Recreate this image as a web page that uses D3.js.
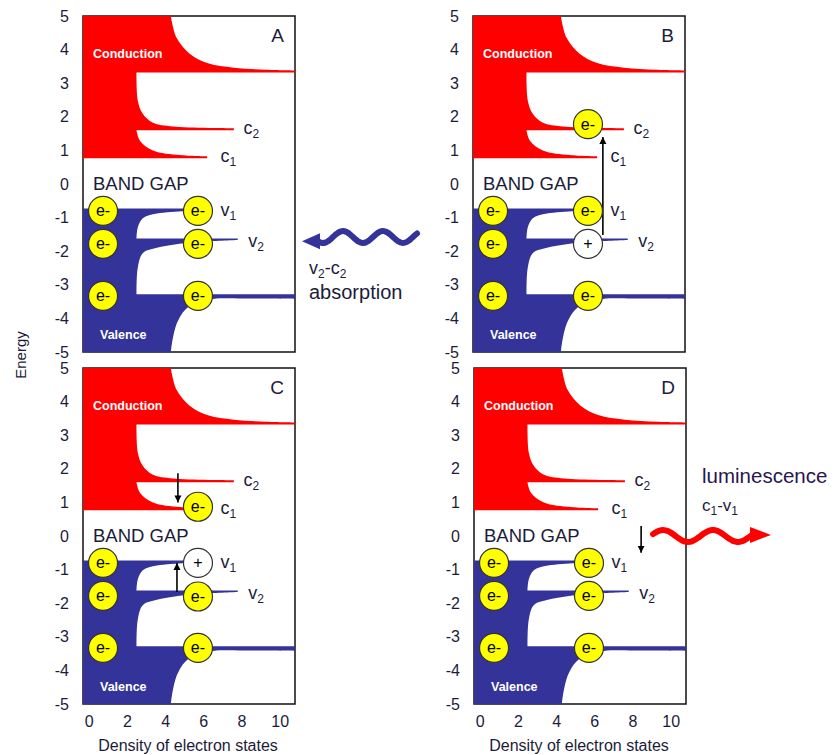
<!DOCTYPE html>
<html>
<head>
<meta charset="utf-8">
<script src="https://cdn.jsdelivr.net/npm/d3@7"></script>
<style>
  body { margin: 0; background: #fff; }
  text { font-family: Arial, "Liberation Sans", sans-serif; }
</style>
</head>
<body>
<div id="chart"></div>
<script>
// ---- data (density, energy) ----
const energyTicks = [5, 4, 3, 2, 1, 0, -1, -2, -3, -4, -5];
const densityTicks = [0, 2, 4, 6, 8, 10];
const densityDomain = [-0.3, 10.8];

// conduction band: upper edge curves of the three sub-bands
const condTop = [[4.3, 5], [4.6, 4.35], [5.3, 3.87], [6.2, 3.6], [7.6, 3.46], [9.3, 3.4], [10.8, 3.38]];
const condC2 = [[2.5, 3.32], [2.57, 2.48], [2.83, 2.09], [3.36, 1.82], [4.41, 1.71], [7.6, 1.66]];
const condC1 = [[2.5, 1.6], [2.68, 1.29], [3.36, 1.0], [4.78, 0.86], [6.2, 0.82]];
const condFloor = [3.32, 1.6, 0.77];

// valence band: lower edge curves of the three sub-bands
const valV1 = [[5.8, -0.79], [5.04, -0.8], [3.57, -0.88], [2.83, -1.02], [2.57, -1.29], [2.5, -1.62]];
const valV2 = [[7.8, -1.67], [6, -1.72], [4.5, -1.8], [3.57, -1.9], [2.83, -2.06], [2.57, -2.48], [2.5, -3.28]];
const valV3 = [[10.8, -3.42], [8.5, -3.41], [6.5, -3.42], [5.67, -3.52], [5.04, -3.75], [4.62, -4.14], [4.36, -4.73], [4.3, -5]];
const valCeil = [-0.73, -1.62, -3.28];

// level labels [name, sub, density, energy]
const levelLabels = [["c", "2", 8.1, 1.65], ["c", "1", 6.9, 0.8], ["v", "1", 6.9, -0.8], ["v", "2", 8.35, -1.72]];

// carriers [density, energy, type]
const leftElectrons = [[0.75, -0.8, "e"], [0.75, -1.78, "e"], [0.75, -3.33, "e"]];
const carriersA = [[5.72, -0.8, "e"], [5.72, -1.78, "e"], [5.72, -3.33, "e"]];
const carriersB = [[5.72, 1.78, "e"], [5.72, -0.8, "e"], [5.72, -1.78, "h"], [5.72, -3.33, "e"]];
const carriersC = [[5.72, 0.87, "e"], [5.72, -0.8, "h"], [5.72, -1.8, "e"], [5.72, -3.33, "e"]];
const carriersD = [[5.72, -0.8, "e"], [5.72, -1.78, "e"], [5.72, -3.33, "e"]];

// transition arrows [density, from energy, to energy]
const arrowsA = [];
const arrowsB = [[6.5, -1.52, 1.4]];
const arrowsC = [[4.67, 1.87, 1.0], [4.62, -1.67, -0.8]];
const arrowsD = [[8.45, 0.3, -0.5]];

// ---- drawing ----
const W = 835, H = 755, pw = 212, ph = 336;
const ink = "#1c1c3a";
const red = "#ff0000", blue = "#333399";
const font = "Arial, 'Liberation Sans', sans-serif";

const svg = d3.select("#chart").append("svg").attr("width", W).attr("height", H);

svg.append("defs").append("marker")
    .attr("id", "tip")
    .attr("viewBox", "0 0 10 10")
    .attr("refX", 10).attr("refY", 5)
    .attr("markerWidth", 7).attr("markerHeight", 8)
    .attr("markerUnits", "userSpaceOnUse")
    .attr("orient", "auto")
  .append("path").attr("d", "M0,0L10,5L0,10Z").attr("fill", "#000");

const panels = [
  {name: "A", left: 83, top: 16, carriers: carriersA, arrows: arrowsA, xAxis: false},
  {name: "B", left: 473, top: 16, carriers: carriersB, arrows: arrowsB, xAxis: false},
  {name: "C", left: 83, top: 368, carriers: carriersC, arrows: arrowsC, xAxis: true},
  {name: "D", left: 474, top: 368, carriers: carriersD, arrows: arrowsD, xAxis: true}
];

function drawPanel(p) {
  const x = d3.scaleLinear().domain(densityDomain).range([p.left, p.left + pw]);
  const y = d3.scaleLinear().domain([-5, 5]).range([p.top + ph, p.top]);
  const g = svg.append("g");
  const x0 = densityDomain[0], x1 = densityDomain[1];

  g.append("rect")
    .attr("x", p.left).attr("y", p.top).attr("width", pw).attr("height", ph)
    .attr("fill", "none").attr("stroke", "#111").attr("stroke-width", 1.5);

  const curve = d3.line().x(d => x(d[0])).y(d => y(d[1])).curve(d3.curveCatmullRom.alpha(0.5));
  const seg = pts => curve(pts).replace(/^M/, "L");
  const pt = (a, b) => `L${x(a)},${y(b)}`;
  const last = a => a[a.length - 1];

  const cond = `M${x(x0)},${y(5)}` + seg(condTop)
    + pt(x1, condFloor[0]) + pt(condC2[0][0], condFloor[0]) + seg(condC2)
    + pt(last(condC2)[0], condFloor[1]) + pt(condC1[0][0], condFloor[1]) + seg(condC1)
    + pt(last(condC1)[0], condFloor[2]) + pt(x0, condFloor[2]) + "Z";
  g.append("path").attr("d", cond).attr("fill", red);

  const val = `M${x(x0)},${y(valCeil[0])}` + pt(valV1[0][0], valCeil[0]) + seg(valV1)
    + pt(valV2[0][0], valCeil[1]) + seg(valV2)
    + pt(x1, valCeil[2]) + seg(valV3)
    + pt(x0, -5) + "Z";
  g.append("path").attr("d", val).attr("fill", blue);

  // axes (plain hyphen minus, as in the original)
  const ya = g.append("g").attr("transform", `translate(${p.left},0)`)
    .call(d3.axisLeft(y).tickValues(energyTicks).tickFormat(d => String(d)).tickSize(0).tickPadding(14));
  ya.select(".domain").remove();
  ya.selectAll("text").attr("font-size", 16).attr("fill", ink).attr("font-family", font);

  if (p.xAxis) {
    const xa = g.append("g").attr("transform", `translate(0,${p.top + ph})`)
      .call(d3.axisBottom(x).tickValues(densityTicks).tickFormat(d => String(d)).tickSize(0).tickPadding(12));
    xa.select(".domain").remove();
    xa.selectAll("text").attr("font-size", 16).attr("fill", ink).attr("font-family", font);
    g.append("text")
      .attr("x", p.left + 105).attr("y", p.top + ph + 47)
      .attr("text-anchor", "middle").attr("font-size", 16).attr("fill", ink)
      .text("Density of electron states");
  }

  // texts inside
  g.append("text").attr("x", p.left + pw - 11).attr("y", p.top + 26)
    .attr("text-anchor", "end").attr("font-size", 19).attr("fill", ink).text(p.name);
  g.append("text").attr("x", p.left + 10).attr("y", p.top + 42)
    .attr("font-size", 12.5).attr("font-weight", "bold").attr("fill", "#fff").text("Conduction");
  g.append("text").attr("x", p.left + 17).attr("y", p.top + 323)
    .attr("font-size", 12.5).attr("font-weight", "bold").attr("fill", "#fff").text("Valence");
  g.append("text").attr("x", p.left + 10).attr("y", p.top + 174)
    .attr("font-size", 18.5).attr("fill", ink).text("BAND GAP");

  levelLabels.forEach(l => {
    const t = g.append("text").attr("x", x(l[2])).attr("y", y(l[3]) + 5)
      .attr("font-size", 18).attr("fill", ink);
    t.append("tspan").text(l[0]);
    t.append("tspan").attr("font-size", 12).attr("dy", 4).text(l[1]);
  });

  // arrows
  p.arrows.forEach(a => {
    g.append("line")
      .attr("x1", x(a[0])).attr("x2", x(a[0]))
      .attr("y1", y(a[1])).attr("y2", y(a[2]))
      .attr("stroke", "#000").attr("stroke-width", 1.6)
      .attr("marker-end", "url(#tip)");
  });

  // electrons and holes
  const c = g.selectAll("g.carrier").data(leftElectrons.concat(p.carriers)).enter()
    .append("g").attr("class", "carrier")
    .attr("transform", d => `translate(${x(d[0])},${y(d[1])})`);
  c.append("circle").attr("r", 14.5)
    .attr("fill", d => d[2] === "e" ? "#ffff00" : "#fff")
    .attr("stroke", "#333").attr("stroke-width", 1.2);
  c.append("text").attr("text-anchor", "middle").attr("dy", "0.35em")
    .attr("font-size", 16).attr("fill", "#000")
    .text(d => d[2] === "e" ? "e-" : "+");
}

panels.forEach(drawPanel);

// y title
svg.append("text")
  .attr("transform", "translate(26,355) rotate(-90)")
  .attr("text-anchor", "middle").attr("font-size", 15).attr("fill", ink)
  .text("Energy");

// wavy arrows (decorations)
function wave(xStart, xEnd, cy, amp, len, crestX) {
  const pts = [];
  const n = 60;
  for (let i = 0; i <= n; i++) {
    const xx = xStart + (xEnd - xStart) * i / n;
    pts.push([xx, cy - amp * Math.cos(2 * Math.PI * (xx - crestX) / len)]);
  }
  return pts;
}
function wavyArrow(pts, tipX, color) {
  const endPt = pts[pts.length - 1];
  svg.append("path").attr("d", d3.line().curve(d3.curveBasis)(pts))
    .attr("fill", "none").attr("stroke", color).attr("stroke-width", 6)
    .attr("stroke-linecap", "round");
  const dir = Math.sign(tipX - endPt[0]);
  const base = endPt[0] - dir * 2;
  svg.append("path")
    .attr("d", `M${base},${endPt[1] - 8}L${tipX},${endPt[1]}L${base},${endPt[1] + 8}Z`)
    .attr("fill", color);
}
wavyArrow(wave(417, 318, 237, 6, 40, 383), 302, blue);
wavyArrow(wave(653, 752, 536, 6, 50, 663), 771, red);

// annotations
const abs = svg.append("text").attr("x", 309).attr("y", 274).attr("font-size", 18).attr("fill", ink);
abs.append("tspan").text("v");
abs.append("tspan").attr("font-size", 12).attr("dy", 4).text("2");
abs.append("tspan").attr("dy", -4).text("-c");
abs.append("tspan").attr("font-size", 12).attr("dy", 4).text("2");
svg.append("text").attr("x", 309).attr("y", 299).attr("font-size", 20).attr("fill", ink).text("absorption");

svg.append("text").attr("x", 702).attr("y", 483).attr("font-size", 20.5).attr("fill", "#2a1650").text("luminescence");
const lum = svg.append("text").attr("x", 702).attr("y", 511).attr("font-size", 17).attr("fill", ink);
lum.append("tspan").text("c");
lum.append("tspan").attr("font-size", 12).attr("dy", 4).text("1");
lum.append("tspan").attr("dy", -4).text("-v");
lum.append("tspan").attr("font-size", 12).attr("dy", 4).text("1");
</script>
</body>
</html>
